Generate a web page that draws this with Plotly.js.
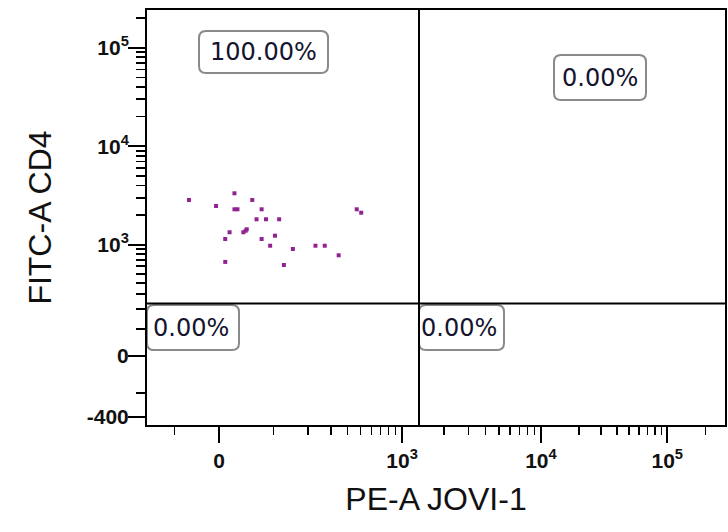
<!DOCTYPE html>
<html>
<head>
<meta charset="utf-8">
<script src="https://cdn.plot.ly/plotly-3.0.1.min.js"></script>
<style>html,body{margin:0;padding:0;background:#fff;}#chart{width:728px;height:532px;}</style>
</head>
<body>
<div id="chart"></div>
<script>
// ---- data (fluorescence values) ----
const peValues = [-64, 25, -6, 25, 30, 56, 74, 64, 83, 113, 17, 46, 40, 44, 10, 74, 103, 92, 150, 229, 270, 344, 10, 125, 468, 505];
const cd4Values = [2855, 3336, 2481, 2296, 2296, 2855, 2296, 1818, 1818, 1818, 1341, 1438, 1341, 1390, 1145, 1145, 1237, 977, 904, 977, 977, 779, 665, 618, 2296, 2121];

const gateX = 1325;   // PE-A quadrant threshold
const gateY = 234;    // FITC-A quadrant threshold

const quadLabels = ["100.00%", "0.00%", "0.00%", "0.00%"];

const xMajorVals = [0, 1e3, 1e4, 1e5];
const xMajorText = ["0", "10<sup>3</sup>", "10<sup>4</sup>", "10<sup>5</sup>"];
const xMinorVals = [-100, 100, 200, 300, 400, 500, 600, 700, 800, 900,
  2000, 3000, 4000, 5000, 6000, 7000, 8000, 9000,
  20000, 30000, 40000, 50000, 60000, 70000, 80000, 90000, 200000];

const yMajorVals = [-400, 0, 1e3, 1e4, 1e5];
const yMajorText = ["-400", "0", "10<sup>3</sup>", "10<sup>4</sup>", "10<sup>5</sup>"];
const yMinorVals = [-200, 100, 200, 300, 400, 500, 600, 700, 800, 900,
  2000, 3000, 4000, 5000, 6000, 7000, 8000, 9000,
  20000, 30000, 40000, 50000, 60000, 70000, 80000, 90000, 200000];

// ---- biexponential-like display scales ----
const SX = {k: 139, kHigh: 126.3, cPos: 96.6, cNeg: 123.4, brk: 1e4};
const SY = {k: 98.7, cPos: 150, cNeg: 206};
function fx(v) {
  if (v < 0) return -SX.k * Math.asinh(-v / SX.cNeg) / Math.LN10;
  const u = Math.asinh(v / SX.cPos) / Math.LN10;
  if (v <= SX.brk) return SX.k * u;
  const ub = Math.asinh(SX.brk / SX.cPos) / Math.LN10;
  return SX.k * ub + SX.kHigh * (u - ub);
}
function fy(v) {
  if (v < 0) return -SY.k * Math.asinh(-v / SY.cNeg) / Math.LN10;
  return SY.k * Math.asinh(v / SY.cPos) / Math.LN10;
}

function roundRect(x0, y0, x1, y1, r) {
  return `M${x0 + r},${y0} L${x1 - r},${y0} Q${x1},${y0} ${x1},${y0 + r} L${x1},${y1 - r} Q${x1},${y1} ${x1 - r},${y1} L${x0 + r},${y1} Q${x0},${y1} ${x0},${y1 - r} L${x0},${y0 + r} Q${x0},${y0} ${x0 + r},${y0} Z`;
}

const boxes = [
  {x0: -20, x1: 109, y0: 283, y1: 325, tx: 44, ty: 304},
  {x0: 335, x1: 427, y0: 256, y1: 301, tx: 381, ty: 278},
  {x0: -72, x1: 20, y0: 6, y1: 51, tx: -28, ty: 28},
  {x0: 200, x1: 285, y0: 6, y1: 51, tx: 240, ty: 28}
];

const trace = {
  type: 'scatter', mode: 'markers',
  x: peValues.map(fx), y: cd4Values.map(fy),
  marker: {symbol: 'square', size: 4, color: 'rgb(145,35,145)', line: {width: 0}},
  hoverinfo: 'skip', showlegend: false
};

const shapes = boxes.map(b => ({
  type: 'path', xref: 'x', yref: 'y', path: roundRect(b.x0, b.y0, b.x1, b.y1, 7),
  line: {color: '#8a8a8a', width: 2}, fillcolor: '#ffffff', layer: 'above'
}));
shapes.push({type: 'line', xref: 'x', yref: 'paper', x0: fx(gateX), x1: fx(gateX), y0: 0, y1: 1,
  line: {color: '#000', width: 2}, layer: 'above'});
shapes.push({type: 'line', xref: 'paper', yref: 'y', x0: 0, x1: 1, y0: fy(gateY), y1: fy(gateY),
  line: {color: '#000', width: 2}, layer: 'above'});

const annotations = boxes.map((b, i) => ({
  xref: 'x', yref: 'y', x: b.tx, y: b.ty, text: quadLabels[i], showarrow: false,
  font: {family: 'DejaVu Sans', size: 24, color: '#14142e'}, xanchor: 'center', yanchor: 'middle'
}));

const tickFont = {family: 'Liberation Sans, Arial', size: 21, color: '#111', weight: 'bold'};
const titleFont = {family: 'Liberation Sans, Arial', size: 32, color: '#111'};

const layout = {
  width: 728, height: 532,
  margin: {l: 147, r: 3, t: 10, b: 107},
  paper_bgcolor: '#fff', plot_bgcolor: '#fff',
  xaxis: {
    range: [-72, 506], showgrid: false, zeroline: false,
    showline: true, linecolor: '#000', linewidth: 2, mirror: true,
    tickmode: 'array', tickvals: xMajorVals.map(fx), ticktext: xMajorText,
    ticks: 'outside', ticklen: 16, tickwidth: 2, tickcolor: '#000',
    tickfont: tickFont,
    minor: {tickmode: 'array', tickvals: xMinorVals.map(fx), ticks: 'outside', ticklen: 8, tickwidth: 1.5, tickcolor: '#000', showgrid: false},
    title: {text: 'PE-A JOVI-1', font: titleFont, standoff: 16}
  },
  yaxis: {
    range: [-69, 346], showgrid: false, zeroline: false,
    showline: true, linecolor: '#000', linewidth: 2, mirror: true,
    tickmode: 'array', tickvals: yMajorVals.map(fy), ticktext: yMajorText,
    ticks: 'outside', ticklen: 17, tickwidth: 2, tickcolor: '#000',
    tickfont: tickFont, ticklabelstandoff: -5,
    minor: {tickmode: 'array', tickvals: yMinorVals.map(fy), ticks: 'outside', ticklen: 9, tickwidth: 1.5, tickcolor: '#000', showgrid: false},
    title: {text: 'FITC-A CD4', font: titleFont, standoff: 26}
  },
  shapes: shapes,
  annotations: annotations
};

Plotly.newPlot('chart', [trace], layout, {displayModeBar: false, staticPlot: true});
</script>
</body>
</html>
